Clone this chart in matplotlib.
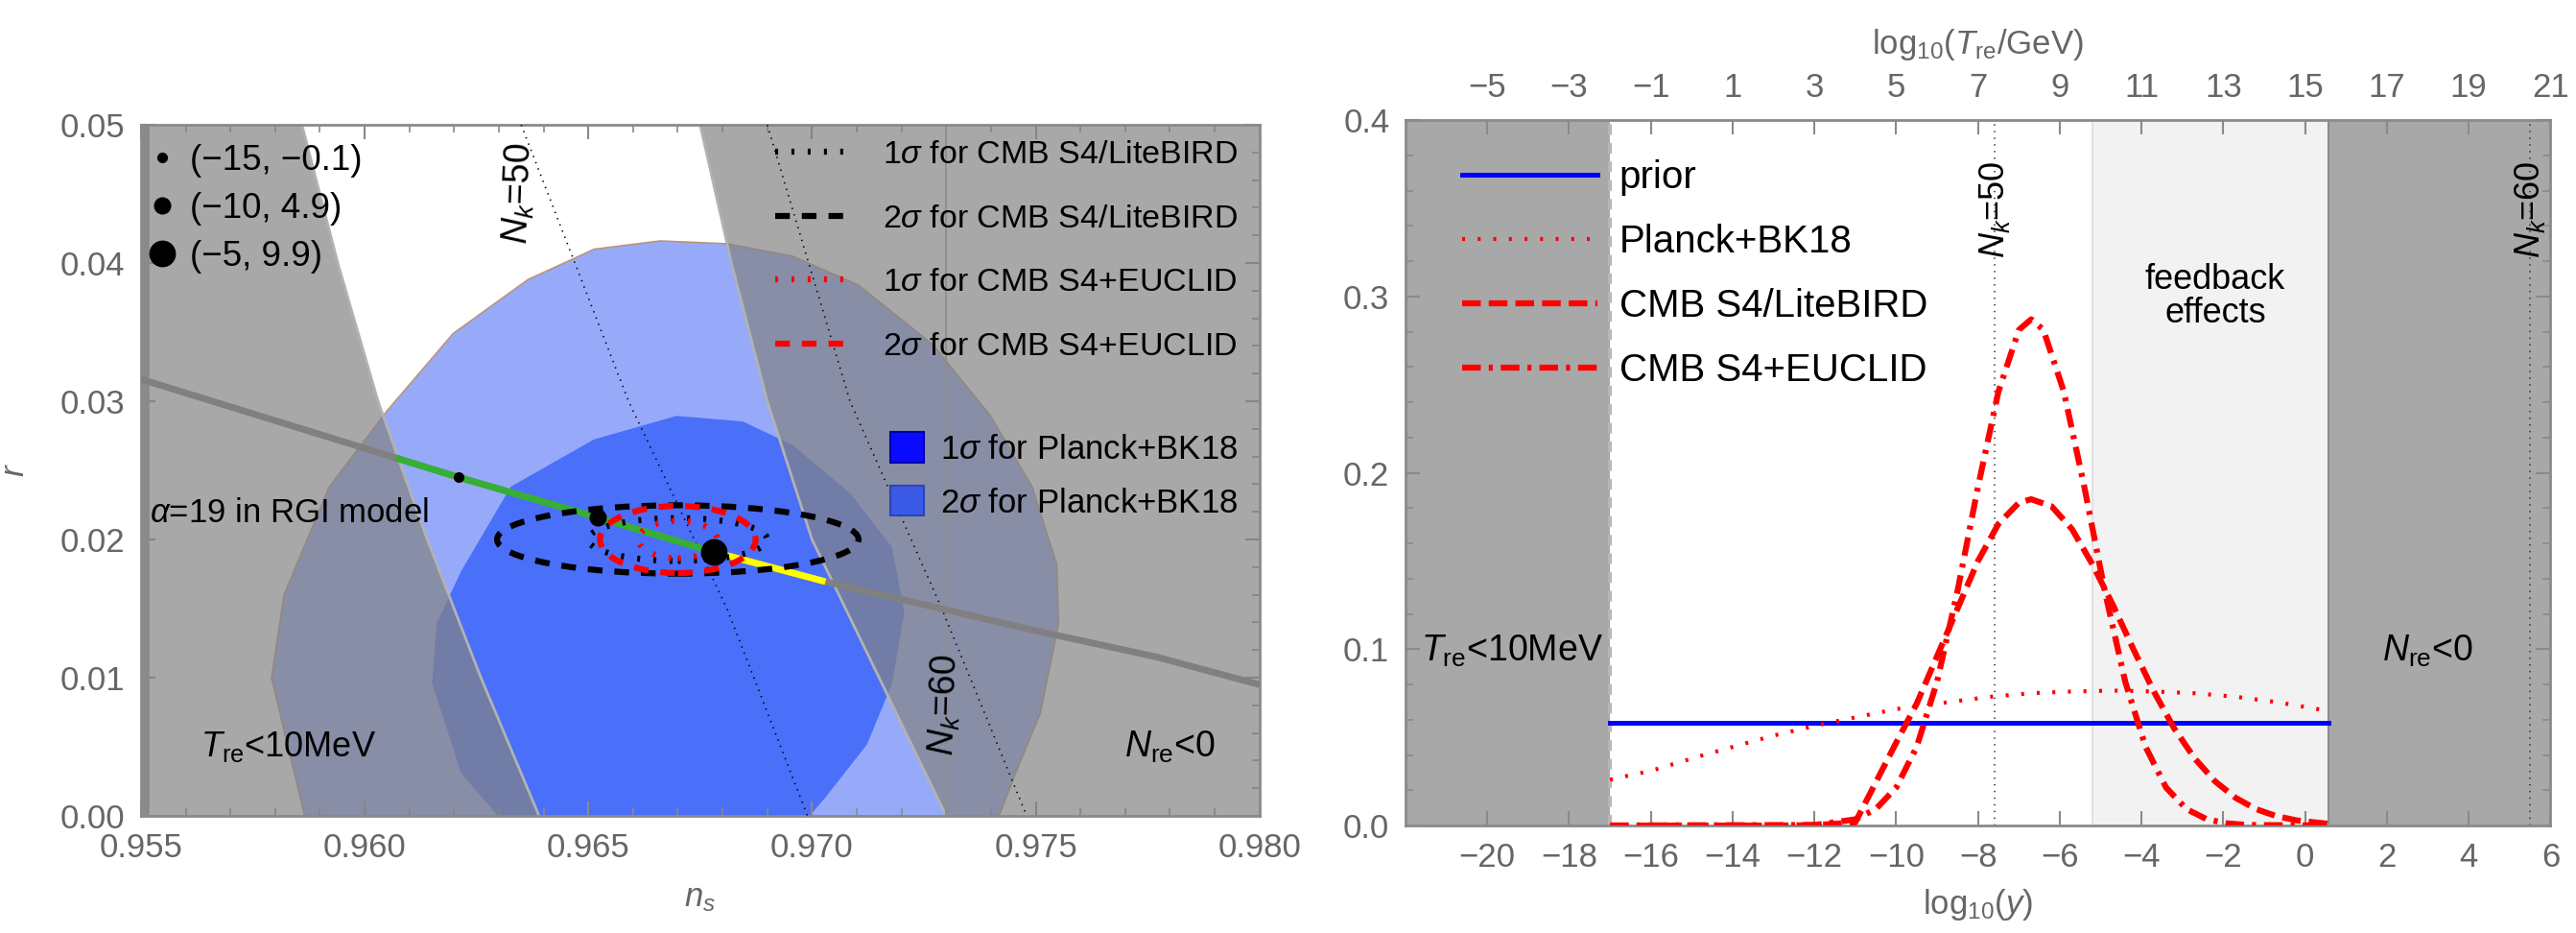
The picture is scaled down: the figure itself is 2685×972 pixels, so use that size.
import numpy as np
import matplotlib.pyplot as plt
from matplotlib.lines import Line2D
from matplotlib.patches import Patch, Ellipse
from matplotlib.ticker import MultipleLocator

plt.rcParams["font.family"] = ["Liberation Sans", "DejaVu Sans"]
plt.rcParams["mathtext.fontset"] = "custom"
plt.rcParams["mathtext.rm"] = "Liberation Sans"
plt.rcParams["mathtext.it"] = "Liberation Sans:italic"
plt.rcParams["mathtext.sf"] = "Liberation Sans"
plt.rcParams["lines.scale_dashes"] = False

# ---------------- left panel data (n_s - r plane) ----------------
ns_lim = (0.955, 0.980)
r_lim = (0.0, 0.05)

# reheating bounds: T_re > 10 MeV (left edge) and N_re > 0 (right edge)
bound_r = [0.05, 0.04, 0.03, 0.02, 0.01, 0.0]
bound_ns_left = [0.9586, 0.9594, 0.9603, 0.9614, 0.9626, 0.9639]
bound_ns_right = [0.9675, 0.9682, 0.9690, 0.9700, 0.9715, 0.9730]
ns_edge_line = 0.973

# N_k = 50 / 60 lines
nk50_ns = [0.9635, 0.9659, 0.9681, 0.9699]
nk50_r = [0.05, 0.03, 0.015, 0.0]
nk60_ns = [0.9690, 0.97085, 0.9729, 0.9748]
nk60_r = [0.05, 0.03, 0.015, 0.0]

# Planck + BK18 contours
p2_ns = [0.95866, 0.95792, 0.9582, 0.95921, 0.9605, 0.96198, 0.96365, 0.96513,
         0.9666, 0.96808, 0.96956, 0.97104, 0.9727, 0.974, 0.97492, 0.97547,
         0.97551, 0.9751, 0.97455, 0.97418]
p2_r = [0.0, 0.00998, 0.016, 0.0238, 0.0293, 0.0349, 0.0388, 0.0410, 0.0416,
        0.0414, 0.0405, 0.0384, 0.0341, 0.0289, 0.0238, 0.0182, 0.0139, 0.0074,
        0.0031, 0.0]
p1_ns = [0.963, 0.96217, 0.96152, 0.96162, 0.96217, 0.96328, 0.96513, 0.96697,
         0.96845, 0.96956, 0.97085, 0.97178, 0.97205, 0.97178, 0.97122, 0.9703,
         0.96993]
p1_r = [0.0, 0.0031, 0.0096, 0.0139, 0.0177, 0.0238, 0.0272, 0.0289, 0.0285,
        0.0268, 0.0233, 0.0194, 0.0147, 0.0096, 0.0052, 0.0014, 0.0]

# forecast ellipses (center, full width, full height)
ell_center = (0.9670, 0.0200)
ell_width = [0.0040, 0.00808, 0.00176, 0.00348]
ell_height = [0.0031, 0.00495, 0.0027, 0.00486]
ell_labels = [r"1$\sigma$ for CMB S4/LiteBIRD", r"2$\sigma$ for CMB S4/LiteBIRD",
              r"1$\sigma$ for CMB S4+EUCLID", r"2$\sigma$ for CMB S4+EUCLID"]

# alpha = 19 RGI model trajectory
traj_ns = [0.955, 0.9607, 0.9621, 0.9652, 0.9678, 0.9703, 0.975, 0.9777, 0.980]
traj_r = [0.0316, 0.0259, 0.0245, 0.0216, 0.0191, 0.01695, 0.0134, 0.0115, 0.0095]
green_idx = slice(1, 5)
yellow_idx = slice(4, 6)

dots_ns = [0.9621, 0.9652, 0.9678]
dots_r = [0.0245, 0.0216, 0.0191]
dots_labels = ["(\u221215, \u22120.1)", "(\u221210, 4.9)", "(\u22125, 9.9)"]

# ---------------- right panel data ----------------
logy_lim = (-22, 6)
tre_min_logy = -17
feedback_logy = -5.2
nre_zero_logy = 0.56
nk50_logy = -7.6
nk60_logy = 5.5
logT_offset = 15

prior_x = [-17, 0.56]
prior_y = [0.058, 0.058]

planck_x = [-17, -16, -14.7, -13, -11.7, -10, -8.7, -7.7, -6.7, -5.7, -4.7,
            -3.7, -2.7, -1.7, -0.7, 0.56]
planck_y = [0.026, 0.031, 0.040, 0.051, 0.058, 0.066, 0.070, 0.073, 0.075,
            0.076, 0.0765, 0.076, 0.075, 0.073, 0.070, 0.065]

lite_x = [-17, -13, -12, -11, -10, -9.5, -9, -8.5, -8, -7.5, -7, -6.7, -6.2,
          -5.7, -5.2, -4.7, -4.2, -3.7, -3.2, -2.7, -2.2, -1.7, -1.2, -0.7,
          -0.2, 0.56]
lite_y = [0.0, 0.0, 0.0002, 0.0018, 0.047, 0.069, 0.096, 0.123, 0.150, 0.171,
          0.183, 0.185, 0.181, 0.168, 0.148, 0.125, 0.100, 0.076, 0.055, 0.038,
          0.025, 0.0157, 0.0093, 0.0053, 0.0029, 0.0010]

eucl_x = [-17, -12, -11, -10.5, -10, -9.5, -9, -8.5, -8, -7.5, -7, -6.7, -6.4,
          -5.9, -5.4, -4.9, -4.4, -3.9, -3.4, -2.9, -2.4, -1.9, -1.4, 0.56]
eucl_y = [0.0, 0.0003, 0.0035, 0.0093, 0.0215, 0.0445, 0.0816, 0.133, 0.192,
          0.246, 0.281, 0.287, 0.281, 0.246, 0.192, 0.133, 0.0816, 0.0445,
          0.0215, 0.0093, 0.0035, 0.0012, 0.0003, 0.0]

# ---------------- styling ----------------
fs = 25
tick_col = "#666666"
frame_col = "#8a8a8a"
dot_ms = [7, 12, 19]
dotted = (0, (2.2, 10))
dashed = (0, (11, 9))

fig = plt.figure(figsize=(26.85, 9.72), dpi=100)
ax1 = fig.add_axes([0.0547, 0.1255, 0.4342, 0.7407])
ax2 = fig.add_axes([0.5456, 0.1152, 0.4445, 0.7562])


def style_axes(ax):
    for s in ax.spines.values():
        s.set_color(frame_col)
        s.set_linewidth(2)
    ax.tick_params(which="both", direction="in", color=frame_col, top=True,
                   right=True, labelcolor=tick_col, labelsize=fs, pad=12)
    ax.tick_params(which="major", length=11, width=1.5)
    ax.tick_params(which="minor", length=6, width=1.2)


# ---- left panel ----
ax1.set_xlim(ns_lim)
ax1.set_ylim(r_lim)
style_axes(ax1)
ax1.xaxis.set_major_locator(MultipleLocator(0.005))
ax1.xaxis.set_minor_locator(MultipleLocator(0.001))
ax1.yaxis.set_major_locator(MultipleLocator(0.01))
ax1.yaxis.set_minor_locator(MultipleLocator(0.002))
ax1.xaxis.set_major_formatter(lambda v, p: f"{v:.3f}")
ax1.yaxis.set_major_formatter(lambda v, p: f"{v:.2f}")

ax1.fill(p2_ns, p2_r, facecolor="#97aafa", edgecolor="#b8957a", lw=1.2, zorder=1)
ax1.fill(p1_ns, p1_r, facecolor="#4a6ff8", edgecolor="#4a6ff8", lw=0.8, zorder=1.1)

gray = dict(color="#838383", alpha=0.7, lw=0, zorder=2)
ax1.fill_betweenx(bound_r, ns_lim[0], bound_ns_left, **gray)
ax1.fill_betweenx(bound_r, bound_ns_right, ns_lim[1], **gray)
ax1.plot(bound_ns_left, bound_r, color="#b2b2b2", lw=2, zorder=2.2)
ax1.plot(bound_ns_right, bound_r, color="#b2b2b2", lw=2, zorder=2.2)
ax1.axvline(ns_edge_line, color="#8e8e8e", lw=1.3, zorder=2.3)
ax1.axvline(ns_lim[0], color="#8a8a8a", lw=12, zorder=2.3)

ax1.plot(nk50_ns, nk50_r, color="k", lw=1.2, ls=(0, (1, 4)), zorder=3)
ax1.plot(nk60_ns, nk60_r, color="k", lw=1.2, ls=(0, (1, 4)), zorder=3)

ax1.plot(traj_ns, traj_r, color="#808080", lw=5, zorder=4, solid_capstyle="butt")
ax1.plot(traj_ns[green_idx], traj_r[green_idx], color="#35b035", lw=5, zorder=4.1,
         solid_capstyle="butt")
ax1.plot(traj_ns[yellow_idx], traj_r[yellow_idx], color="#ffff00", lw=5, zorder=4.1,
         solid_capstyle="butt")

ell_colors = ["k", "k", "red", "red"]
ell_styles = [dotted, dashed, dotted, dashed]
ell_handles = []
for w, h, c, st, lab in zip(ell_width, ell_height, ell_colors, ell_styles, ell_labels):
    e = Ellipse(ell_center, w, h, fill=False, edgecolor=c, lw=4.5, ls=st, zorder=5)
    ax1.add_patch(e)
    ell_handles.append(Line2D([], [], color=c, lw=4.5, ls=st, label=lab))

dot_handles = []
for x, y, ms, lab in zip(dots_ns, dots_r, dot_ms, dots_labels):
    ax1.plot(x, y, "o", color="k", ms=ms, zorder=6)
    dot_handles.append(Line2D([], [], color="k", marker="o", ls="", ms=ms, label=lab))

ax1.text(0.9552, 0.0219, r"$\alpha$=19 in RGI model", fontsize=fs, ha="left",
         va="center", zorder=7)
ax1.text(0.9583, 0.0050, r"$T_{\rm re}$<10MeV", fontsize=fs + 1, ha="center",
         va="center", zorder=7)
ax1.text(0.9780, 0.0050, r"$N_{\rm re}$<0", fontsize=fs + 2, ha="center",
         va="center", zorder=7)
ax1.text(0.96346, 0.0450, r"$N_k$=50", fontsize=fs + 2, rotation=88, ha="center",
         va="center", zorder=7)
ax1.text(0.97298, 0.0080, r"$N_k$=60", fontsize=fs + 2, rotation=88, ha="center",
         va="center", zorder=7)

leg1 = ax1.legend(handles=dot_handles, loc="upper left", bbox_to_anchor=(0.006, 0.972),
                  frameon=False, fontsize=fs + 1.5, handlelength=0.8, handletextpad=0.4,
                  labelspacing=0.4, borderpad=0, borderaxespad=0)
leg1.set_zorder(8)
ax1.add_artist(leg1)
leg2 = ax1.legend(handles=ell_handles, loc="upper right", bbox_to_anchor=(0.981, 0.978),
                  frameon=False, fontsize=fs - 0.5, handlelength=2.3, handletextpad=1.0,
                  labelspacing=1.05, borderpad=0, borderaxespad=0)
leg2.set_zorder(8)
ax1.add_artist(leg2)
patch_handles = [
    Patch(facecolor="#0a0aff", edgecolor="#0000aa", lw=1.5, label=r"1$\sigma$ for Planck+BK18"),
    Patch(facecolor="#3a5ae6", edgecolor="#2a44bb", lw=1.5, label=r"2$\sigma$ for Planck+BK18"),
]
leg3 = ax1.legend(handles=patch_handles, loc="upper right", bbox_to_anchor=(0.981, 0.555),
                  frameon=False, fontsize=fs, handlelength=1.0, handleheight=1.0,
                  handletextpad=0.5, labelspacing=0.62, borderpad=0, borderaxespad=0)
leg3.set_zorder(8)

ax1.set_xlabel(r"$n_s$", fontsize=fs, color=tick_col, labelpad=14)
ax1.set_ylabel(r"$r$", fontsize=fs, color=tick_col, labelpad=22)

# ---- right panel ----
ax2.set_xlim(logy_lim)
ax2.set_ylim(0, 0.4)
style_axes(ax2)
ax2.tick_params(top=False)
ax2.set_xticks(np.arange(-20, 7, 2))
ax2.yaxis.set_major_locator(MultipleLocator(0.1))
ax2.yaxis.set_minor_locator(MultipleLocator(0.02))
ax2.yaxis.set_major_formatter(lambda v, p: f"{v:.1f}")

ax2.axvspan(logy_lim[0], tre_min_logy, color="#a8a8a8", lw=0, zorder=0)
ax2.axvspan(feedback_logy, nre_zero_logy, color="#f2f2f2", lw=0, zorder=0)
ax2.axvspan(nre_zero_logy, logy_lim[1], color="#a8a8a8", lw=0, zorder=0)
ax2.axvline(tre_min_logy, color="#b8b8b8", lw=3, ls=(0, (8, 6)), zorder=0.5)
ax2.axvline(feedback_logy, color="#dcdcdc", lw=1.2, zorder=0.5)
ax2.axvline(nre_zero_logy, color="#8c8c8c", lw=1.5, zorder=0.5)
ax2.axvline(nk50_logy, color="#333333", lw=1.2, ls=(0, (1, 4)), zorder=1)
ax2.axvline(nk60_logy, color="#333333", lw=1.2, ls=(0, (1, 4)), zorder=1)

ax2.plot(prior_x, prior_y, color="#0000ff", lw=3.6, label="prior", zorder=3)
ax2.plot(planck_x, planck_y, color="red", lw=3, ls=(0, (2.2, 9.5)),
         label="Planck+BK18", zorder=3)
ax2.plot(lite_x, lite_y, color="red", lw=4.5, ls=(0, (14, 6)),
         label="CMB S4/LiteBIRD", zorder=3)
ax2.plot(eucl_x, eucl_y, color="red", lw=4.5, ls=(0, (14, 6, 3, 6)),
         label="CMB S4+EUCLID", zorder=3)

leg4 = ax2.legend(loc="upper left", bbox_to_anchor=(0.0493, 0.944), frameon=False,
                  fontsize=29, handlelength=3.5, handletextpad=0.57,
                  labelspacing=0.72, borderpad=0, borderaxespad=0)
leg4.set_zorder(8)

ax2.text(-19.4, 0.099, r"$T_{\rm re}$<10MeV", fontsize=27, ha="center", va="center")
ax2.text(3.0, 0.099, r"$N_{\rm re}$<0", fontsize=27, ha="center", va="center")
ax2.text(-2.2, 0.30, "feedback\neffects", fontsize=26, ha="center", va="center",
         linespacing=1.0)
ax2.text(nk50_logy, 0.349, r"$N_k$=50", fontsize=26, rotation=90, ha="center",
         va="center")
ax2.text(nk60_logy, 0.349, r"$N_k$=60", fontsize=26, rotation=90, ha="center",
         va="center")

ax2.set_xlabel(r"log$_{10}$($y$)", fontsize=fs, color=tick_col, labelpad=10)

top = ax2.secondary_xaxis("top", functions=(lambda x: x + logT_offset,
                                             lambda x: x - logT_offset))
top.set_xticks(np.arange(-5, 22, 2))
top.tick_params(direction="in", color=frame_col, labelcolor=tick_col, labelsize=fs,
                length=11, width=1.5, pad=12)
top.spines["top"].set_color(frame_col)
top.set_xlabel(r"log$_{10}$($T_{\rm re}$/GeV)", fontsize=fs, color=tick_col, labelpad=14)

fig.savefig("out.png", dpi=100)
